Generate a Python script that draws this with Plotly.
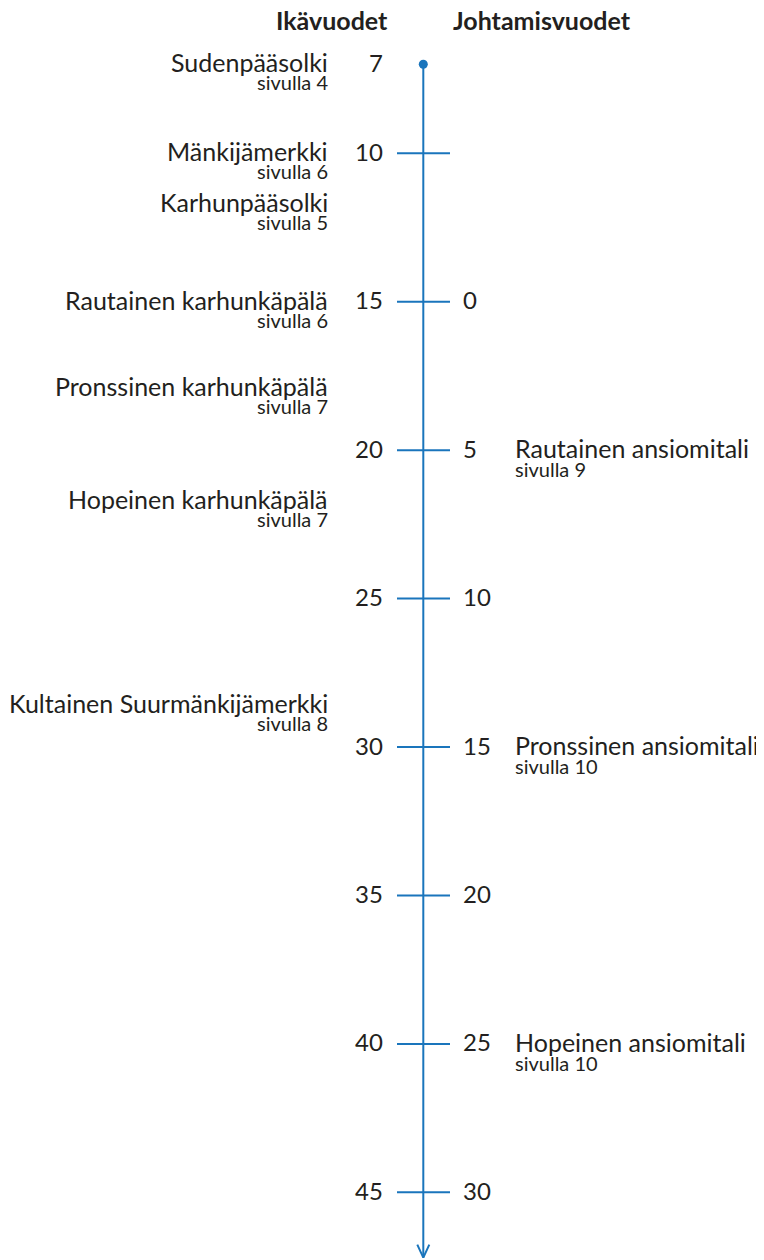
import plotly.graph_objects as go

# ---------------- data ----------------
start_age = 7
age_ticks = [10, 15, 20, 25, 30, 35, 40, 45]
age_tick_labels = ["10", "15", "20", "25", "30", "35", "40", "45"]
lead_start_age = 15
lead_ticks = [0, 5, 10, 15, 20, 25, 30]
lead_tick_labels = ["0", "5", "10", "15", "20", "25", "30"]
end_age = 47.2

left_awards = ["Sudenpääsolki", "Mänkijämerkki", "Karhunpääsolki",
               "Rautainen karhunkäpälä", "Pronssinen karhunkäpälä",
               "Hopeinen karhunkäpälä", "Kultainen Suurmänkijämerkki"]
left_pages = ["sivulla 4", "sivulla 6", "sivulla 5", "sivulla 6",
              "sivulla 7", "sivulla 7", "sivulla 8"]
left_ages = [7, 10, 11.7, 15, 17.9, 21.7, 28.6]

right_awards = ["Rautainen ansiomitali", "Pronssinen ansiomitali", "Hopeinen ansiomitali"]
right_pages = ["sivulla 9", "sivulla 10", "sivulla 10"]
right_lead_years = [5, 15, 25]

header_left = "Ikävuodet"
header_right = "Johtamisvuodet"

# ---------------- style / layout ----------------
W, H = 764, 1260
PAGE_OFFSET = 8                      # browser body margin
PX_PER_YEAR = 29.686
AGE_AT_TOP = 10 - (153.3 - PAGE_OFFSET) / PX_PER_YEAR
AGE_AT_BOTTOM = AGE_AT_TOP + H / PX_PER_YEAR
BLUE = "#1a75bc"
TEXT = "#231f20"
FONT = "Lato"
AXIS_X = 423.3
TICK_L, TICK_R = 397, 450
AGE_LABEL_X = 385
LEAD_LABEL_X = 461
LEFT_TEXT_X = 330
RIGHT_TEXT_X = 513
NUM_SIZE = 24
NAME_SIZE = 25
PAGE_SIZE = 20
HEAD_SIZE = 25
NAME_SHIFT = 2
PAGE_SHIFT_L = -18
PAGE_SHIFT_R = -19

fig = go.Figure()

# main axis line
fig.add_trace(go.Scatter(x=[AXIS_X, AXIS_X], y=[start_age, end_age], mode="lines",
                         line=dict(color=BLUE, width=2), hoverinfo="skip"))
# start dot
fig.add_trace(go.Scatter(x=[AXIS_X], y=[start_age], mode="markers",
                         marker=dict(color=BLUE, size=9), hoverinfo="skip"))
# tick marks
tx, ty = [], []
for a in age_ticks:
    tx += [TICK_L, TICK_R, None]
    ty += [a, a, None]
fig.add_trace(go.Scatter(x=tx, y=ty, mode="lines", line=dict(color=BLUE, width=2),
                         hoverinfo="skip"))
# arrow head (open V)
arm = 13 / PX_PER_YEAR
fig.add_trace(go.Scatter(x=[AXIS_X - 6, AXIS_X, AXIS_X + 6],
                         y=[end_age - arm, end_age, end_age - arm], mode="lines",
                         line=dict(color=BLUE, width=2), hoverinfo="skip"))

ann = []
# age labels
for a, lab in zip([start_age] + age_ticks, [str(start_age)] + age_tick_labels):
    ann.append(dict(x=AGE_LABEL_X, y=a, xref="x", yref="y", text=lab, showarrow=False,
                    xanchor="right", yanchor="middle", yshift=NAME_SHIFT,
                    font=dict(family=FONT, size=NUM_SIZE, color=TEXT)))
# leadership labels
for l, lab in zip(lead_ticks, lead_tick_labels):
    ann.append(dict(x=LEAD_LABEL_X, y=lead_start_age + l, xref="x", yref="y", text=lab,
                    showarrow=False, xanchor="left", yanchor="middle", yshift=NAME_SHIFT,
                    font=dict(family=FONT, size=NUM_SIZE, color=TEXT)))
# left awards
for name, page, a in zip(left_awards, left_pages, left_ages):
    ann.append(dict(x=LEFT_TEXT_X, y=a, xref="x", yref="y", text=name, showarrow=False,
                    xanchor="right", yanchor="middle", yshift=NAME_SHIFT,
                    font=dict(family=FONT, size=NAME_SIZE, color=TEXT)))
    ann.append(dict(x=LEFT_TEXT_X, y=a, xref="x", yref="y", text=page, showarrow=False,
                    xanchor="right", yanchor="middle", yshift=PAGE_SHIFT_L,
                    font=dict(family=FONT, size=PAGE_SIZE, color=TEXT)))
# right awards
for name, page, l in zip(right_awards, right_pages, right_lead_years):
    a = lead_start_age + l
    ann.append(dict(x=RIGHT_TEXT_X, y=a, xref="x", yref="y", text=name, showarrow=False,
                    xanchor="left", yanchor="middle", yshift=NAME_SHIFT,
                    font=dict(family=FONT, size=NAME_SIZE, color=TEXT)))
    ann.append(dict(x=RIGHT_TEXT_X, y=a, xref="x", yref="y", text=page, showarrow=False,
                    xanchor="left", yanchor="middle", yshift=PAGE_SHIFT_R,
                    font=dict(family=FONT, size=PAGE_SIZE, color=TEXT)))
# headers
HEAD_Y = 1 - (20 - PAGE_OFFSET) / H
ann.append(dict(x=390, y=HEAD_Y, xref="x", yref="paper", text="<b>%s</b>" % header_left,
                showarrow=False, xanchor="right", yanchor="middle",
                font=dict(family=FONT, size=HEAD_SIZE, color=TEXT)))
ann.append(dict(x=451, y=HEAD_Y, xref="x", yref="paper", text="<b>%s</b>" % header_right,
                showarrow=False, xanchor="left", yanchor="middle",
                font=dict(family=FONT, size=HEAD_SIZE, color=TEXT)))

fig.update_layout(
    width=W, height=H, margin=dict(l=0, r=0, t=0, b=0),
    paper_bgcolor="white", plot_bgcolor="white", showlegend=False,
    xaxis=dict(range=[PAGE_OFFSET, PAGE_OFFSET + W], visible=False, fixedrange=True),
    yaxis=dict(range=[AGE_AT_BOTTOM, AGE_AT_TOP], visible=False, fixedrange=True),
    annotations=ann,
)
fig.write_html("out.html")
